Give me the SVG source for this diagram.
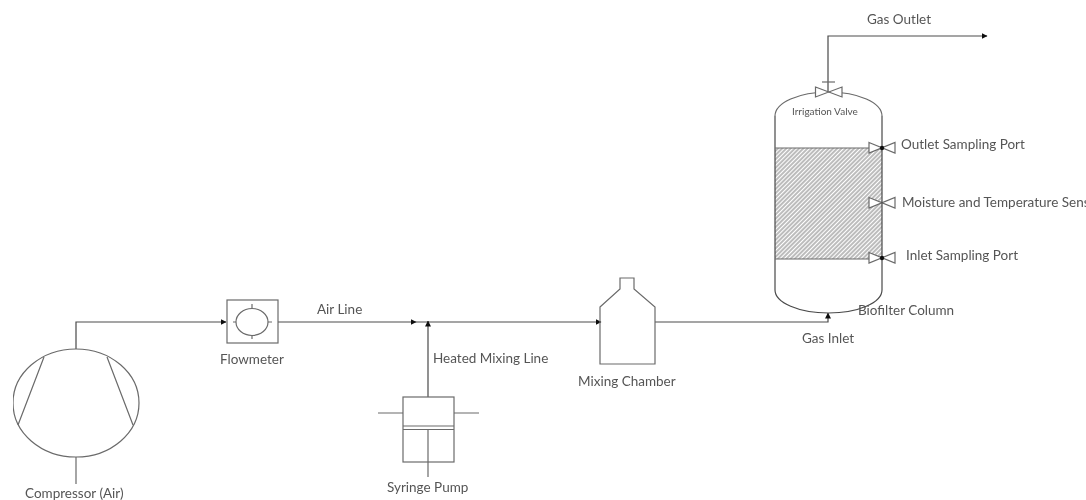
<svg xmlns="http://www.w3.org/2000/svg" width="1086" height="500" viewBox="0 0 1086 500">
<style>
.s{fill:none;stroke:#6a6a6a;stroke-width:1.2}
.d{fill:none;stroke:#4a4a4a;stroke-width:1.2}
.w{fill:#fff;stroke:#6a6a6a;stroke-width:1.2}
text{font-family:Lato,"Open Sans",sans-serif;font-size:13.500px;fill:#555}
</style>
<defs>
<marker id="a" viewBox="0 0 6 6" refX="5.500" refY="3" markerWidth="6" markerHeight="6" markerUnits="userSpaceOnUse" orient="auto"><path d="M0 0L6 3L0 6Z" fill="#111"/></marker>
<pattern id="h" width="3" height="3" patternUnits="userSpaceOnUse" patternTransform="rotate(-45)"><rect width="3" height="3" fill="#fff"/><line x1="0" y1="1" x2="3" y2="1" stroke="#7a7a7a" stroke-width="1"/></pattern>
<filter id="b" x="0" y="0" width="100%" height="100%"><feGaussianBlur stdDeviation="0.4"/></filter>
</defs>
<rect width="1086" height="500" fill="#fff"/>
<g filter="url(#b)">
<g id="connectors">
<path class="d" d="M76 349V322H226" marker-end="url(#a)"/>
<path class="d" d="M278 322H416" marker-end="url(#a)"/>
<path class="d" d="M416 322H601" marker-end="url(#a)"/>
<path class="d" d="M428 397V321" marker-end="url(#a)"/>
<path class="d" d="M655 322H828V313" marker-end="url(#a)"/>
<path class="d" d="M828 92V36H987" marker-end="url(#a)"/>
</g>
<g id="compressor">
<ellipse class="s" cx="76" cy="403" rx="63" ry="54"/>
<path class="s" d="M44 357L18 425M107 357L133 425M76 457V484"/>
<text x="25" y="498">Compressor (Air)</text>
</g>
<g id="flowmeter">
<rect class="s" x="227" y="300" width="51" height="43"/>
<ellipse class="s" cx="252" cy="322" rx="16" ry="13.500"/>
<path class="s" d="M252 304V308M252 335V339M233 322H236M268 322H272"/>
<text x="220" y="364">Flowmeter</text>
</g>
<g id="air-line"><text x="317" y="314">Air Line</text></g>
<g id="heated-line"><text x="433" y="363">Heated Mixing Line</text></g>
<g id="syringe-pump">
<rect class="s" x="403" y="397" width="51" height="65"/>
<path class="s" d="M403 426H454M403 429.500H454M428 429V477M378 413H403M454 413H479"/>
<text x="387" y="492">Syringe Pump</text>
</g>
<g id="mixing-chamber">
<path class="s" d="M600 307L620 289V278H634V289L655 307V364H600Z"/>
<text x="578" y="386">Mixing Chamber</text>
</g>
<g id="packing">
<rect x="775" y="148" width="107" height="111" fill="url(#h)"/>
</g>
<g id="irrigation-valve">
<path class="s" d="M775 116A53.500 24 0 0 1 882 116"/>
<path class="w" d="M815.500 87L842 97V87L815.500 97Z"/>
<path class="s" d="M822 82H835"/>
<text x="792" y="115" style="font-size:10px">Irrigation Valve</text>
</g>
<g id="outlet-port">
<path class="w" d="M869 142.500L895 153V142.500L869 153Z"/>
<text x="901" y="149">Outlet Sampling Port</text>
</g>
<g id="sensor">
<path class="w" d="M869 197.500L895 208V197.500L869 208Z"/>
<text x="902" y="207">Moisture and Temperature Sensor</text>
</g>
<g id="inlet-port">
<path class="w" d="M869 252.500L895 263V252.500L869 263Z"/>
<text x="906" y="260">Inlet Sampling Port</text>
</g>
<g id="column">
<path class="d" d="M775 116V290A53.500 23 0 0 0 882 290V116"/>
<path class="s" d="M775 148H869M775 259H869"/>
<circle cx="882" cy="148" r="2.200" fill="#111"/>
<circle cx="882" cy="258" r="2.200" fill="#111"/>
<text x="858" y="315">Biofilter Column</text>
<text x="802" y="343">Gas Inlet</text>
</g>
<g id="gas-outlet"><text x="867" y="24">Gas Outlet</text></g>
</g>
</svg>
